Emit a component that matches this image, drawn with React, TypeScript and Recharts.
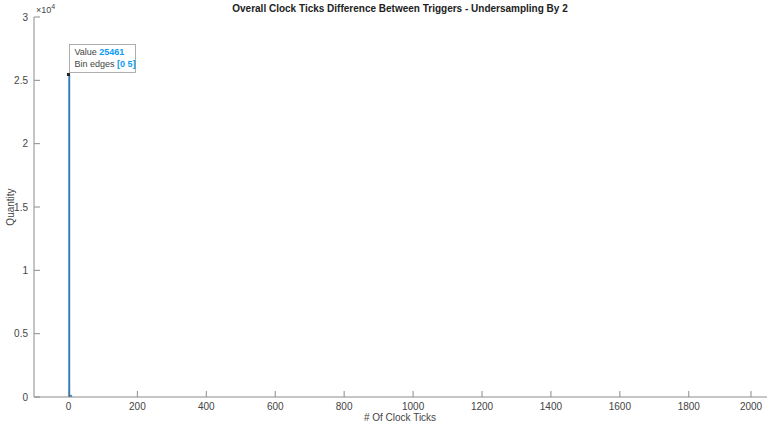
import React from 'react';
import { ComposedChart, Bar, XAxis, YAxis, ReferenceDot, Customized } from 'recharts';

const binCenters = [2.5, 7.5];
const binCounts = [25461, 150];
const binEdges = [[0, 5], [5, 10]];
const xTicks = [0, 200, 400, 600, 800, 1000, 1200, 1400, 1600, 1800, 2000];
const yTicks = [0, 5000, 10000, 15000, 20000, 25000, 30000];

const data = binCenters.map((c, i) => ({ x: c, count: binCounts[i] }));

const FONT = 'Liberation Sans, Arial, Helvetica, sans-serif';
const LINE = '#8c8c8c';
const TEXT = '#444444';

const XTick = (props: any) => {
  const { x, y, payload } = props;
  return (
    <g>
      <line x1={x} y1={y} x2={x} y2={y - 6} stroke={LINE} strokeWidth={1} />
      <text x={x} y={y + 13} textAnchor="middle" fontSize={10} fill={TEXT} fontFamily={FONT}>
        {payload.value}
      </text>
    </g>
  );
};

const TopTick = (props: any) => {
  const { x, y } = props;
  return <line x1={x} y1={y} x2={x} y2={y + 6} stroke={LINE} strokeWidth={1} />;
};

const YTick = (props: any) => {
  const { x, y, payload } = props;
  return (
    <g>
      <line x1={x} y1={y} x2={x + 6} y2={y} stroke={LINE} strokeWidth={1} />
      <text x={x - 6} y={y + 3.5} textAnchor="end" fontSize={10} fill={TEXT} fontFamily={FONT}>
        {payload.value / 10000}
      </text>
    </g>
  );
};

const TipShape = (props: any) => {
  const { cx, cy } = props;
  return (
    <g>
      <rect x={cx + 1} y={cy - 30} width={66} height={28} fill="#ffffff" fillOpacity={0.9} stroke="#9a9a9a" strokeWidth={0.8} />
      <text x={cx + 6} y={cy - 19} fontSize={9} fill={TEXT} fontFamily={FONT}>
        Value <tspan fill="#0d9cf2" fontWeight="bold">{binCounts[0]}</tspan>
      </text>
      <text x={cx + 6} y={cy - 7} fontSize={9} fill={TEXT} fontFamily={FONT}>
        Bin edges <tspan fill="#0d9cf2" fontWeight="bold">[{binEdges[0][0]} {binEdges[0][1]}]</tspan>
      </text>
      <rect x={cx - 1.5} y={cy - 1.5} width={3} height={3} fill="#222" />
    </g>
  );
};

const Texts = () => (
  <g fontFamily={FONT}>
    <text x={400} y={12} textAnchor="middle" fontSize={10} fontWeight="bold" fill="#222">
      Overall Clock Ticks Difference Between Triggers - Undersampling By 2
    </text>
    <text x={36} y={13} fontSize={9} fill={TEXT}>
      ×10<tspan dy={-4} fontSize={7}>4</tspan>
    </text>
    <text x={14} y={207} textAnchor="middle" fontSize={10} fill={TEXT} transform="rotate(-90 14 207)">
      Quantity
    </text>
    <text x={400} y={421} textAnchor="middle" fontSize={10} fill={TEXT}>
      # Of Clock Ticks
    </text>
  </g>
);

export default function App() {
  return (
    <div style={{ position: 'absolute', left: 0, top: 0, width: 767, height: 423, background: '#fff' }}>
      <ComposedChart width={767} height={423} data={data} margin={{ top: 17, right: 0, bottom: 0, left: 0 }}>
        <XAxis
          xAxisId="bottom"
          dataKey="x"
          type="number"
          domain={[-100, 2027]}
          ticks={xTicks}
          tickSize={0}
          tickMargin={0}
          tick={<XTick />}
          tickLine={false}
          axisLine={{ stroke: LINE }}
          height={26}
          allowDataOverflow
        />
        <XAxis
          xAxisId="top"
          orientation="top"
          dataKey="x"
          type="number"
          domain={[-100, 2027]}
          ticks={xTicks}
          tickSize={0}
          tickMargin={0}
          tick={<TopTick />}
          tickLine={false}
          axisLine={{ stroke: LINE }}
          height={0}
          allowDataOverflow
        />
        <YAxis
          yAxisId="left"
          type="number"
          domain={[0, 30000]}
          ticks={yTicks}
          tickSize={0}
          tickMargin={0}
          tick={<YTick />}
          tickLine={false}
          axisLine={{ stroke: LINE }}
          width={34}
          allowDataOverflow
        />
        <Bar
          xAxisId="bottom"
          yAxisId="left"
          dataKey="count"
          barSize={2}
          fill="#2f86cc"
          stroke="#1d4f80"
          strokeWidth={0.3}
          isAnimationActive={false}
        />
        <ReferenceDot
          xAxisId="bottom"
          yAxisId="left"
          x={binEdges[0][0]}
          y={binCounts[0]}
          shape={<TipShape />}
        />
        <Customized component={<Texts />} />
      </ComposedChart>
    </div>
  );
}
